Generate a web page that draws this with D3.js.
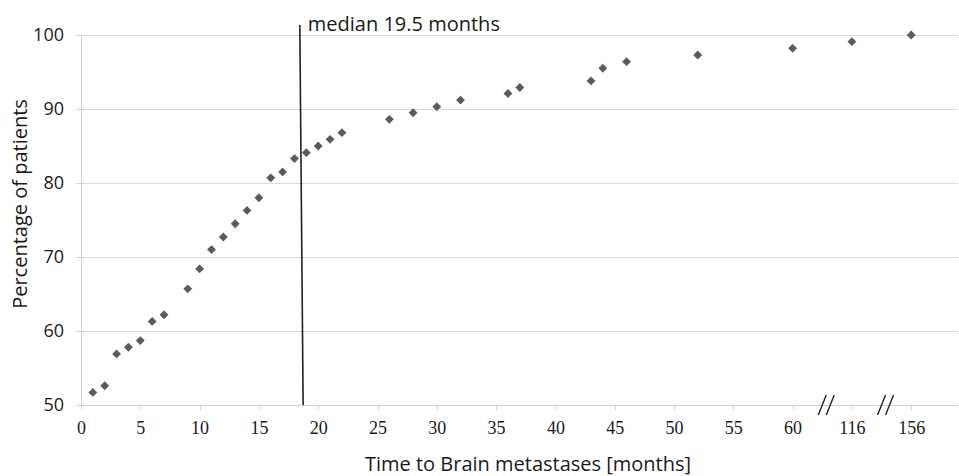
<!DOCTYPE html>
<html lang="en">
<head>
	<meta charset="utf-8">
	<title>Time to brain metastases</title>
	<script src="https://d3js.org/d3.v7.min.js"></script>
	<style type="text/css">
		body { margin: 0; background: #fff; }
		.grid line { stroke: #d9d9d9; shape-rendering: crispEdges; }
		.axis path, .axis line { fill: none; stroke: #d0d0d0; shape-rendering: crispEdges; }
		.yaxis text { font-family: "Open Sans", sans-serif; font-size: 18px; fill: #1a1a1a; }
		.xaxis text { font-family: "Liberation Serif", serif; font-size: 18px; fill: #1a1a1a; }
		.label { font-family: "Open Sans", sans-serif; font-size: 20px; fill: #1a1a1a; }
	</style>
</head>
<body>
	<script type="text/javascript">

		// months and cumulative percentage of patients
		var months = [1, 2, 3, 4, 5, 6, 7, 9, 10, 11, 12, 13, 14, 15, 16, 17, 18, 19, 20, 21, 22,
			26, 28, 30, 32, 36, 37, 43, 44, 46, 52, 60, 116, 156];
		var percent = [51.7, 52.6, 56.9, 57.8, 58.7, 61.3, 62.2, 65.7, 68.4, 71.0, 72.7, 74.5, 76.3, 78.0, 80.7, 81.5, 83.3, 84.1, 85.0, 85.9, 86.8,
			88.6, 89.5, 90.3, 91.2, 92.1, 92.9, 93.8, 95.5, 96.4, 97.3, 98.2, 99.1, 100];
		var xTicks = [0, 5, 10, 15, 20, 25, 30, 35, 40, 45, 50, 55, 60, 116, 156];
		var yTicks = [50, 60, 70, 80, 90, 100];
		var medianLabel = "median 19.5 months";
		var medianPos = [18.45, 18.73]; // drawn position (top, bottom)

		var w = 959, h = 476;
		var mLeft = 81, mTop = 35, mBottom = 405, mRight = 958;
		var step = 59.3; // px between ticks

		// broken axis: 0-60 linear, then 116 and 156 one tick step each
		var xScale = d3.scaleLinear()
			.domain([0, 60, 116, 156])
			.range([mLeft, mLeft + 12 * step, mLeft + 13 * step, mLeft + 14 * step]);

		var yScale = d3.scaleLinear()
			.domain([50, 100])
			.range([mBottom, mTop]);

		var svg = d3.select("body")
			.append("svg")
			.attr("width", w)
			.attr("height", h);

		// horizontal gridlines
		svg.append("g")
			.attr("class", "grid")
			.selectAll("line")
			.data(yTicks.slice(1))
			.enter()
			.append("line")
			.attr("x1", mLeft)
			.attr("x2", mRight)
			.attr("y1", function (d) { return Math.round(yScale(d)) + 0.5; })
			.attr("y2", function (d) { return Math.round(yScale(d)) + 0.5; });

		// X axis
		var xAxis = d3.axisBottom(xScale)
			.tickValues(xTicks)
			.tickSize(5)
			.tickPadding(11)
			.tickFormat(d3.format("d"));

		svg.append("g")
			.attr("class", "axis xaxis")
			.attr("transform", "translate(0," + mBottom + ")")
			.call(xAxis)
			.call(function (g) {
				g.select(".domain").attr("d", "M" + mLeft + ",0.5H" + mRight);
			});

		// Y axis
		var yAxis = d3.axisLeft(yScale)
			.tickValues(yTicks)
			.tickSize(5)
			.tickPadding(12);

		svg.append("g")
			.attr("class", "axis yaxis")
			.attr("transform", "translate(" + mLeft + ",0)")
			.call(yAxis);

		// break marks between 60|116 and 116|156
		var breaks = [(xScale(60) + xScale(116)) / 2 + 4, (xScale(116) + xScale(156)) / 2 + 4];
		breaks.forEach(function (bx) {
			[-4, 4].forEach(function (o) {
				svg.append("line")
					.attr("x1", bx + o - 4).attr("y1", mBottom + 10)
					.attr("x2", bx + o + 4).attr("y2", mBottom - 10)
					.attr("stroke", "#222")
					.attr("stroke-width", 1.4);
			});
		});

		// median line
		svg.append("line")
			.attr("x1", xScale(medianPos[0]))
			.attr("y1", 25)
			.attr("x2", xScale(medianPos[1]))
			.attr("y2", mBottom)
			.attr("stroke", "#222")
			.attr("stroke-width", 1.6);

		svg.append("text")
			.attr("class", "label")
			.attr("x", xScale(medianPos[0]) + 8)
			.attr("y", 31)
			.text(medianLabel);

		// diamond markers
		var diamond = d3.symbol().type(d3.symbolDiamond2).size(50);
		svg.selectAll("path.pt")
			.data(months)
			.enter()
			.append("path")
			.attr("class", "pt")
			.attr("d", diamond)
			.attr("transform", function (d, i) {
				return "translate(" + xScale(d) + "," + yScale(percent[i]) + ")";
			})
			.attr("fill", "#5b5b5b");

		// axis titles
		svg.append("text")
			.attr("class", "label")
			.attr("text-anchor", "middle")
			.attr("x", 528)
			.attr("y", 471)
			.text("Time to Brain metastases [months]");

		svg.append("text")
			.attr("class", "label")
			.attr("text-anchor", "middle")
			.attr("transform", "translate(27,204) rotate(-90)")
			.text("Percentage of patients");

	</script>
</body>
</html>
